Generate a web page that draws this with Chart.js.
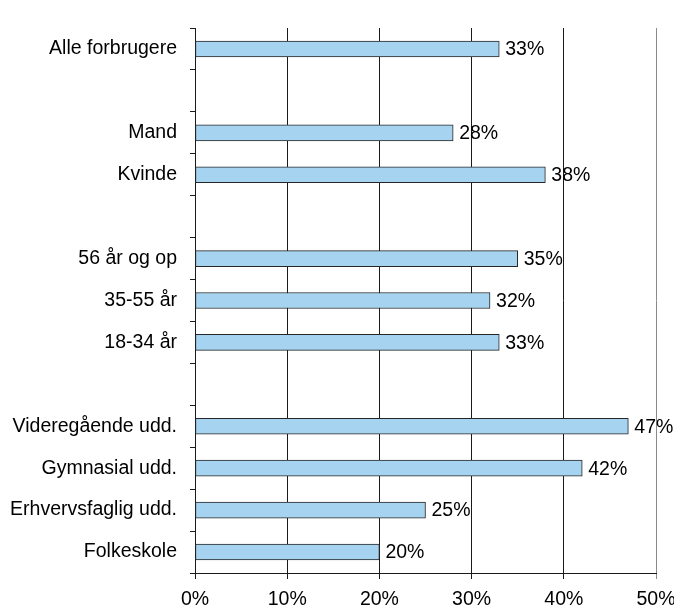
<!DOCTYPE html>
<html>
<head>
<meta charset="utf-8">
<script src="https://cdn.jsdelivr.net/npm/chart.js@4/dist/chart.umd.min.js"></script>
<style>
  html, body { margin: 0; padding: 0; background: #fff; }
  #wrap { width: 674px; height: 608px; }
</style>
</head>
<body>
<div id="wrap"><canvas id="chart"></canvas></div>
<script>
// Kategorier (tomme strenge = mellemrum mellem grupper)
const categories = ['Alle forbrugere', '', 'Mand', 'Kvinde', '', '56 år og op', '35-55 år', '18-34 år', '', 'Videregående udd.', 'Gymnasial udd.', 'Erhvervsfaglig udd.', 'Folkeskole'];
const values = [33, null, 28, 38, null, 35, 32, 33, null, 47, 42, 25, 20];
const xTicks = [0, 10, 20, 30, 40, 50];

const FONT = "'Liberation Sans', Arial, sans-serif";
const FSIZE = 19.5;

// Værdi-etiketter til højre for søjlerne
const valueLabels = {
    id: 'valueLabels',
    afterDatasetsDraw(chart) {
        const ctx = chart.ctx;
        const meta = chart.getDatasetMeta(0);
        ctx.save();
        ctx.font = FSIZE + 'px ' + FONT;
        ctx.fillStyle = '#000';
        ctx.textBaseline = 'middle';
        ctx.textAlign = 'left';
        meta.data.forEach((bar, i) => {
            if (values[i] == null) return;
            ctx.fillText(values[i] + '%', bar.x + 6, bar.y + 1);
        });
        ctx.restore();
    }
};

const ctx = document.getElementById('chart').getContext('2d');
new Chart(ctx, {
    type: 'bar',
    data: {
        labels: categories,
        datasets: [{
            data: values,
            backgroundColor: '#a6d3ef',
            borderColor: '#262626',
            borderWidth: 1,
            borderSkipped: false,
            barThickness: 16
        }]
    },
    options: {
        indexAxis: 'y',
        responsive: true,
        maintainAspectRatio: false,
        animation: false,
        layout: { padding: { top: 28, right: 18, left: 0, bottom: 0 } },
        plugins: {
            legend: { display: false },
            tooltip: { enabled: false }
        },
        scales: {
            x: {
                min: 0,
                max: 50,
                afterBuildTicks: (scale) => { scale.ticks = xTicks.map(v => ({ value: v })); },
                afterFit: (scale) => {
                    scale.height = 35;
                    scale.paddingLeft = 0;
                    scale.paddingRight = 0;
                },
                grid: {
                    color: (c) => c.tick && c.tick.value === 50 ? '#8a8a8a' : '#1a1a1a',
                    lineWidth: 1,
                    tickLength: 6
                },
                border: { display: true, color: '#1a1a1a' },
                ticks: {
                    color: '#000',
                    font: { family: FONT, size: FSIZE },
                    padding: 9,
                    callback: (v) => v + '%'
                }
            },
            y: {
                afterFit: (scale) => { scale.width = 195; },
                grid: {
                    drawOnChartArea: false,
                    color: '#1a1a1a',
                    tickLength: 5,
                    offset: true
                },
                border: { display: true, color: '#1a1a1a' },
                ticks: {
                    color: '#000',
                    font: { family: FONT, size: FSIZE },
                    padding: 13
                }
            }
        }
    },
    plugins: [valueLabels]
});
</script>
</body>
</html>
